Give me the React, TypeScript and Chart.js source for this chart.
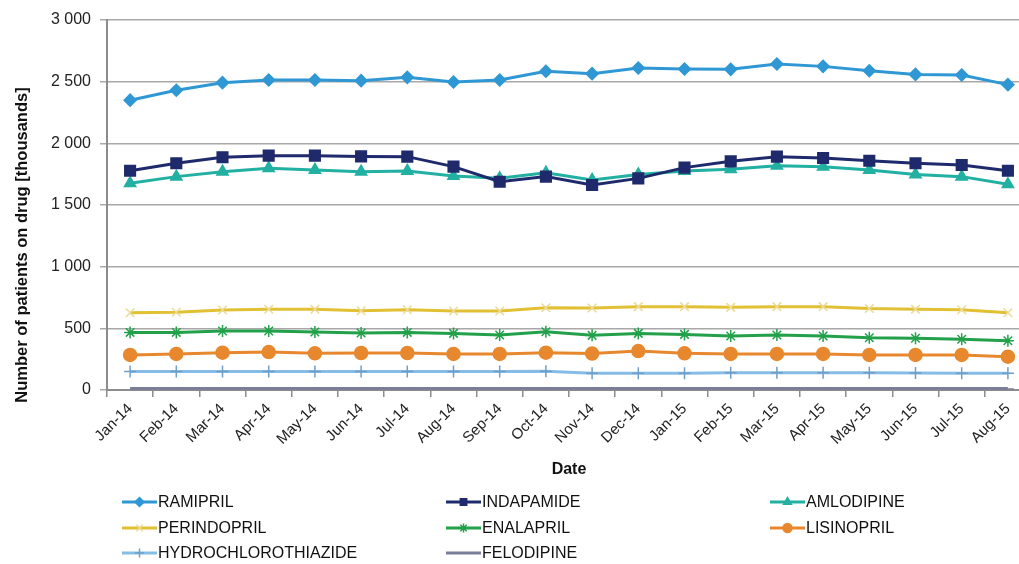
import React, { useEffect, useRef } from "react";
import { Chart, registerables } from "chart.js";
import { drawPoint } from "chart.js/helpers";

Chart.register(...registerables);

const months = [
  "Jan-14", "Feb-14", "Mar-14", "Apr-14", "May-14", "Jun-14", "Jul-14", "Aug-14",
  "Sep-14", "Oct-14", "Nov-14", "Dec-14", "Jan-15", "Feb-15", "Mar-15", "Apr-15",
  "May-15", "Jun-15", "Jul-15", "Aug-15",
];

const ramipril = [2350, 2430, 2492, 2513, 2513, 2508, 2535, 2497, 2513, 2584, 2565, 2611, 2603, 2600, 2643, 2624, 2589, 2559, 2554, 2476];
const indapamide = [1778, 1838, 1887, 1900, 1900, 1894, 1892, 1811, 1689, 1730, 1662, 1716, 1803, 1854, 1892, 1881, 1859, 1838, 1824, 1778];
const amlodipine = [1676, 1730, 1770, 1798, 1784, 1770, 1776, 1735, 1716, 1762, 1703, 1748, 1776, 1789, 1819, 1811, 1784, 1748, 1730, 1668];
const perindopril = [627, 630, 649, 654, 654, 643, 651, 640, 640, 667, 665, 676, 676, 670, 676, 676, 660, 654, 651, 627];
const enalapril = [467, 467, 478, 478, 470, 462, 467, 459, 446, 473, 443, 459, 451, 438, 446, 438, 424, 419, 411, 400];
const lisinopril = [284, 292, 303, 308, 297, 300, 300, 292, 292, 303, 295, 316, 297, 292, 292, 292, 284, 284, 284, 270];
const hydrochlorothiazide = [150, 150, 150, 150, 150, 150, 150, 150, 150, 152, 135, 135, 135, 140, 140, 140, 140, 138, 135, 135];
const felodipine = [8, 8, 8, 8, 8, 8, 8, 8, 8, 8, 8, 8, 8, 8, 8, 8, 8, 8, 8, 8];

const yTicks = [0, 500, 1000, 1500, 2000, 2500, 3000];

const FONT = "'Liberation Sans', Arial, sans-serif";

type SeriesDef = {
  label: string;
  data: number[];
  color: string;
  style: string;
  radius: number;
  pointColor?: string;
};

const series: SeriesDef[] = [
  { label: "RAMIPRIL", data: ramipril, color: "#2f98d4", style: "rectRot", radius: 6 },
  { label: "INDAPAMIDE", data: indapamide, color: "#1f2a6c", style: "rect", radius: 7.5 },
  { label: "AMLODIPINE", data: amlodipine, color: "#22b0a2", style: "triangle", radius: 6.5 },
  { label: "PERINDOPRIL", data: perindopril, color: "#e2c034", style: "crossRot", radius: 6, pointColor: "#eadb96" },
  { label: "ENALAPRIL", data: enalapril, color: "#22a04a", style: "star", radius: 6 },
  { label: "LISINOPRIL", data: lisinopril, color: "#e8882e", style: "circle", radius: 6.5 },
  { label: "HYDROCHLOROTHIAZIDE", data: hydrochlorothiazide, color: "#86bde6", style: "cross", radius: 6, pointColor: "#6f9fc8" },
  { label: "FELODIPINE", data: felodipine, color: "#7b7e97", style: "dash", radius: 6 },
];

const formatThousands = (v: number) =>
  v >= 1000 ? `${Math.floor(v / 1000)} ${String(v % 1000).padStart(3, "0")}` : String(v);

// Axis titles and the three-column legend below the plot.
const decorations = {
  id: "decorations",
  afterDraw(chart: any) {
    const ctx = chart.ctx as CanvasRenderingContext2D;
    const area = chart.chartArea;
    ctx.save();
    ctx.fillStyle = "#111";
    ctx.font = `bold 16px ${FONT}`;
    ctx.textAlign = "center";
    ctx.textBaseline = "middle";
    ctx.fillText("Date", (area.left + area.right) / 2, 470);

    ctx.font = `bold 16.5px ${FONT}`;
    ctx.translate(22, 245);
    ctx.rotate(-Math.PI / 2);
    ctx.fillText("Number of patients on drug [thousands]", 0, 0);
    ctx.restore();

    const cols = [122, 446, 770];
    const rows = [502, 528, 553];
    ctx.save();
    chart.data.datasets.forEach((ds: any, i: number) => {
      const x0 = cols[i % 3];
      const y0 = rows[Math.floor(i / 3)];
      ctx.strokeStyle = ds.borderColor;
      ctx.lineWidth = 3;
      ctx.beginPath();
      ctx.moveTo(x0, y0);
      ctx.lineTo(x0 + 35, y0);
      ctx.stroke();
      ctx.fillStyle = ds.pointBackgroundColor;
      ctx.strokeStyle = ds.pointBorderColor;
      ctx.lineWidth = 1.5;
      if (ds.pointStyle !== "dash") {
        drawPoint(ctx, { pointStyle: ds.pointStyle, radius: 4.5, borderWidth: 1.5 } as any, x0 + 17.5, y0);
      }
      ctx.fillStyle = "#111";
      ctx.font = `16px ${FONT}`;
      ctx.textAlign = "left";
      ctx.textBaseline = "middle";
      ctx.fillText(ds.label, x0 + 36, y0 + 1);
    });
    ctx.restore();
  },
};

export default function App() {
  const canvasRef = useRef<HTMLCanvasElement | null>(null);

  useEffect(() => {
    if (!canvasRef.current) return;
    const chart = new Chart(canvasRef.current, {
      type: "line",
      data: {
        labels: months,
        datasets: series.map((s) => ({
          label: s.label,
          data: s.data,
          borderColor: s.color,
          backgroundColor: s.color,
          borderWidth: s.label === "FELODIPINE" ? 4 : 3,
          pointStyle: s.style as any,
          pointRadius: s.radius,
          pointHoverRadius: s.radius,
          pointBackgroundColor: s.pointColor ?? s.color,
          pointBorderColor: s.pointColor ?? s.color,
          pointBorderWidth: 1.5,
          tension: 0,
        })),
      },
      options: {
        animation: false,
        responsive: false,
        devicePixelRatio: 1,
        layout: { padding: { top: 20, right: 14, left: 0, bottom: 0 } },
        plugins: { legend: { display: false }, tooltip: { enabled: false } },
        scales: {
          x: {
            offset: true,
            grid: { offset: true, drawOnChartArea: false, color: "#8c8c8c", tickLength: 7, lineWidth: 1.5 },
            border: { color: "#8c8c8c", width: 2 },
            ticks: {
              color: "#222",
              font: { family: FONT, size: 15 },
              minRotation: 45,
              maxRotation: 45,
              padding: 3,
              autoSkip: false,
            },
            afterFit: (scale: any) => {
              scale.height = 174;
            },
          },
          y: {
            min: 0,
            max: 3000,
            afterBuildTicks: (scale: any) => {
              scale.ticks = yTicks.map((v) => ({ value: v }));
            },
            grid: { color: "#a8a8a8", lineWidth: 1.5, tickLength: 7 },
            border: { color: "#8c8c8c", width: 2 },
            ticks: {
              color: "#222",
              font: { family: FONT, size: 16 },
              padding: 9,
              callback: (v: any) => formatThousands(Number(v)),
            },
            afterFit: (scale: any) => {
              scale.width = 107;
            },
          },
        },
      },
      plugins: [decorations],
    });
    return () => chart.destroy();
  }, []);

  return (
    <div
      style={{
        position: "fixed",
        left: 0,
        top: 0,
        width: 1019,
        height: 564,
        overflow: "hidden",
        background: "#fff",
      }}
    >
      <canvas ref={canvasRef} width={1045} height={564} style={{ width: 1045, height: 564, display: "block" }} />
    </div>
  );
}
